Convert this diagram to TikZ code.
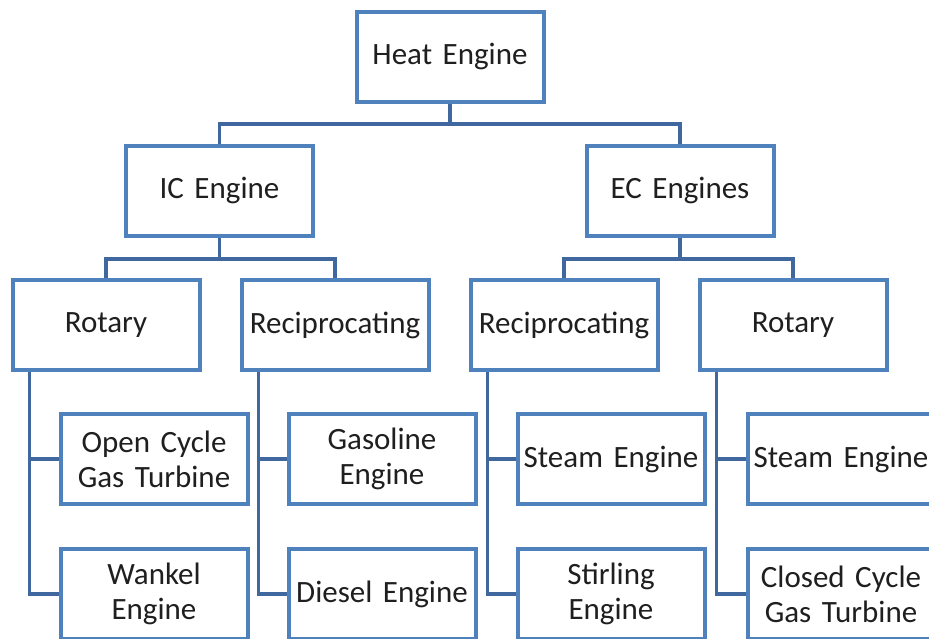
\documentclass[tikz,border=0pt]{standalone}
\usepackage{fontspec}
\setmainfont{Carlito}[WordSpace=1.5]
\definecolor{boxblue}{HTML}{4F81BD}
\definecolor{linkblue}{HTML}{41689E}
\begin{document}
\begin{tikzpicture}[x=1pt,y=-1pt,
  box/.style={draw=boxblue,line width=4pt,fill=white,minimum width=187pt,minimum height=90pt,
    inner sep=0pt,align=center,font=\fontsize{31}{35}\selectfont,text=black!88},
  conn/.style={draw=linkblue,line width=3.8pt}]
\useasboundingbox (0,0) rectangle (929,639);
\coordinate (bar1) at (0,124);
\coordinate (bar2) at (0,259);
\node[box] (he) at (450,57) {Heat Engine};
\node[box] (ic) at (219.5,191) {IC Engine};
\node[box] (ec) at (680,191) {EC Engines};
\node[box] (rotL) at (106,325) {Rotary};
\node[box] (recL) at (335,325) {Reciprocating};
\node[box] (recR) at (564,325) {Reciprocating};
\node[box] (rotR) at (793,325) {Rotary};
\node[box] (oc) at (154,459) {Open Cycle\\Gas Turbine};
\node[box] (ga) at (382,459) {Gasoline\\Engine};
\node[box] (st1) at (611,459) {Steam Engine};
\node[box] (st2) at (841,459) {Steam Engine};
\node[box] (wk) at (154,594) {Wankel\\Engine};
\node[box] (di) at (382,594) {Diesel Engine};
\node[box] (si) at (611,594) {Stirling\\Engine};
\node[box] (cc) at (841,594) {Closed Cycle\\Gas Turbine};
% tree links
\draw[conn] (he.south) -- (he.south |- bar1);
\draw[conn] (ic.north) |- (ec.north |- bar1) -- (ec.north);
\draw[conn] (ic.south) -- (ic.south |- bar2);
\draw[conn] (rotL.north) |- (recL.north |- bar2) -- (recL.north);
\draw[conn] (ec.south) -- (ec.south |- bar2);
\draw[conn] (recR.north) |- (rotR.north |- bar2) -- (rotR.north);
% side links
\draw[conn] ([xshift=19pt]rotL.south west) |- (wk.west);
\draw[conn] ([xshift=19pt]rotL.south west |- oc.west) -- (oc.west);
\draw[conn] ([xshift=19pt]recL.south west) |- (di.west);
\draw[conn] ([xshift=19pt]recL.south west |- ga.west) -- (ga.west);
\draw[conn] ([xshift=19pt]recR.south west) |- (si.west);
\draw[conn] ([xshift=19pt]recR.south west |- st1.west) -- (st1.west);
\draw[conn] ([xshift=19pt]rotR.south west) |- (cc.west);
\draw[conn] ([xshift=19pt]rotR.south west |- st2.west) -- (st2.west);
\end{tikzpicture}
\end{document}
